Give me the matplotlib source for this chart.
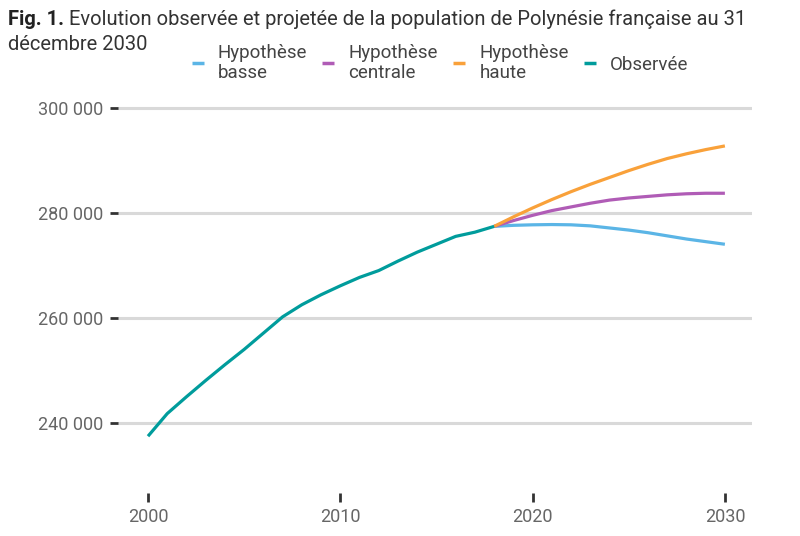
import matplotlib
matplotlib.use("Agg")
import matplotlib.pyplot as plt
from matplotlib.lines import Line2D
from matplotlib.ticker import FuncFormatter

plt.rcParams['font.family'] = ['Roboto', 'DejaVu Sans']

# observed population (31 Dec)
obs_years = list(range(2000, 2019))
obs_pop = [237500, 241800, 245000, 248100, 251100, 254000, 257100, 260200,
           262500, 264400, 266100, 267700, 269000, 270800, 272500, 274000,
           275500, 276300, 277400]

# projections 2018-2030
proj_years = list(range(2018, 2031))
basse = [277400, 277600, 277700, 277750, 277700, 277500, 277100, 276700,
         276200, 275600, 275000, 274500, 274000]
centrale = [277400, 278500, 279500, 280400, 281100, 281800, 282400, 282800,
            283100, 283400, 283600, 283700, 283700]
haute = [277400, 279200, 280900, 282500, 284000, 285400, 286700, 288000,
         289200, 290300, 291200, 292000, 292700]

labels = ["Hypothèse\nbasse", "Hypothèse\ncentrale", "Hypothèse\nhaute", "Observée"]
colors = ["#5bb5e6", "#b05cb6", "#f9a13a", "#009c9c"]

yticks = [240000, 260000, 280000, 300000]
xticks = [2000, 2010, 2020, 2030]

fig = plt.figure(figsize=(8, 5.36), dpi=100)
ax = fig.add_axes([0.1475, 0.0802, 0.7925, 0.7388])

lw = 2.3
ax.plot(proj_years, basse, color=colors[0], lw=lw, solid_capstyle='butt', zorder=3)
ax.plot(proj_years, centrale, color=colors[1], lw=lw, solid_capstyle='butt', zorder=3)
ax.plot(proj_years, haute, color=colors[2], lw=lw, solid_capstyle='butt', zorder=3)
ax.plot(obs_years, obs_pop, color=colors[3], lw=lw, solid_capstyle='butt', zorder=4)

ax.set_xlim(1998.44, 2031.41)
ax.set_ylim(226700, 302000)
ax.set_yticks(yticks)
ax.set_xticks(xticks)
ax.yaxis.set_major_formatter(FuncFormatter(lambda v, p: f"{int(v):,}".replace(",", " ")))

for s in ax.spines.values():
    s.set_visible(False)
ax.grid(axis='y', color='#d9d9d9', lw=2.2, zorder=1)
ax.tick_params(axis='y', length=5.5, width=2, color='#333333', pad=5,
               labelsize=13, labelcolor='#666666')
ax.tick_params(axis='x', length=6.5, width=2, color='#333333', pad=4,
               labelsize=13, labelcolor='#666666')

# title: bold prefix + regular text
t1 = fig.text(8 / 800, 1 - 25 / 536, "Fig. 1.", fontsize=14.5, fontweight='bold',
              color='#222222', ha='left', va='baseline')
fig.canvas.draw()
bb = t1.get_window_extent(fig.canvas.get_renderer())
fig.text(bb.x1 / 800 + 5 / 800, 1 - 25 / 536,
         "Evolution observée et projetée de la population de Polynésie française au 31",
         fontsize=14.5, color='#333333', ha='left', va='baseline')
fig.text(8 / 800, 1 - 50 / 536, "décembre 2030", fontsize=14.5,
         color='#333333', ha='left', va='baseline')

handles = [Line2D([], [], color=c, lw=2.5, solid_capstyle='butt') for c in colors]
leg = fig.legend(handles, labels, ncol=4, loc='center', bbox_to_anchor=(440 / 800, 1 - 63 / 536),
                 frameon=False, fontsize=13.5, handlelength=0.65, handletextpad=0.75,
                 columnspacing=0.8, labelcolor='#444444')
for t in leg.get_texts():
    t.set_linespacing(1.15)

fig.savefig("out.png", dpi=100)
